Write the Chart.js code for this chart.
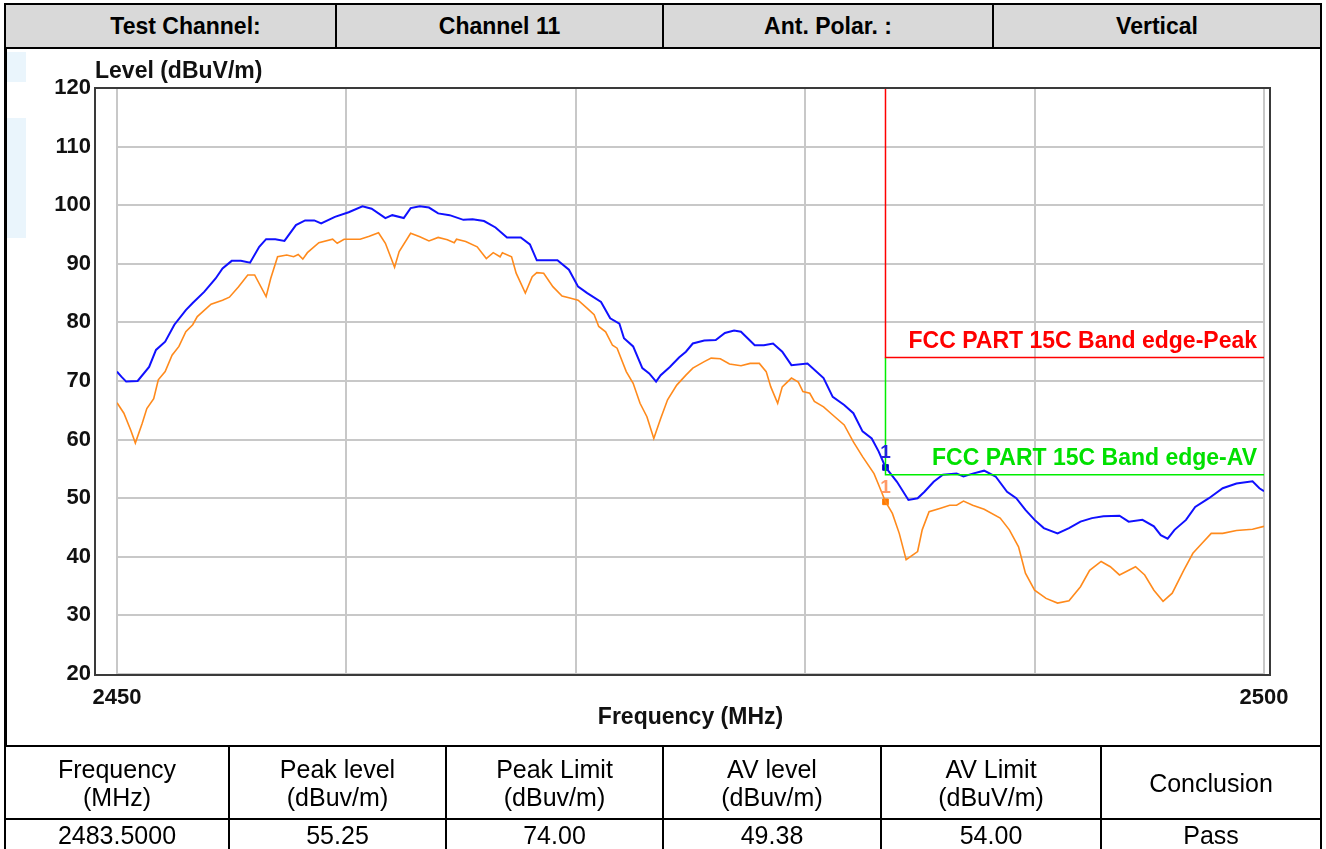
<!DOCTYPE html>
<html>
<head>
<meta charset="utf-8">
<script src="https://cdn.jsdelivr.net/npm/chart.js@4.4.1/dist/chart.umd.min.js"></script>
<style>
  html, body { margin: 0; padding: 0; background: #fff; overflow: hidden; }
  body { width: 1326px; height: 849px; position: relative; font-family: "Liberation Sans", Arial, sans-serif; }
  .wm { position: absolute; background: #eaf5fc; }
  #chartBox { position: absolute; left: 0; top: 48px; width: 1326px; height: 697px; }
  table { position: absolute; border-collapse: collapse; table-layout: fixed; }
  td { border: 2px solid #000; text-align: center; padding: 0; color: #000; }
  #head { left: 4px; top: 3px; width: 1318px; height: 46px; background: #d9d9d9; }
  #head td { font-weight: bold; font-size: 23px; }
  #side { position: absolute; left: 4px; top: 48px; width: 1318px; height: 698px; box-sizing: border-box;
          border-left: 3px solid #000; border-right: 2px solid #000; }
  #foot { left: 4px; top: 745px; width: 1318px; }
  #foot td { font-size: 25px; line-height: 28px; }
</style>
</head>
<body>
<div class="wm" style="left:7px;top:52px;width:19px;height:30px"></div>
<div class="wm" style="left:7px;top:118px;width:19px;height:120px"></div>
<div id="chartBox"><canvas id="grafik" width="1326" height="697"></canvas></div>
<div id="side"></div>
<table id="head">
  <colgroup><col style="width:331px"><col style="width:327px"><col style="width:330px"><col></colgroup>
  <tr>
    <td style="text-indent:30px">Test Channel:</td>
    <td>Channel 11</td>
    <td>Ant. Polar. :</td>
    <td>Vertical</td>
  </tr>
</table>
<table id="foot">
  <colgroup><col style="width:224px"><col style="width:217px"><col style="width:217px"><col style="width:218px"><col style="width:220px"><col></colgroup>
  <tr style="height:73px">
    <td>Frequency<br>(MHz)</td>
    <td>Peak level<br>(dBuv/m)</td>
    <td>Peak Limit<br>(dBuv/m)</td>
    <td>AV level<br>(dBuv/m)</td>
    <td>AV Limit<br>(dBuV/m)</td>
    <td>Conclusion</td>
  </tr>
  <tr style="height:32px">
    <td>2483.5000</td><td>55.25</td><td>74.00</td><td>49.38</td><td>54.00</td><td>Pass</td>
  </tr>
</table>

<script>
// Sumbu
const xTicks = [2450, 2460, 2470, 2480, 2490, 2500];
const yTicks = [20, 30, 40, 50, 60, 70, 80, 90, 100, 110, 120];

// Peak (biru)
const peakFreq = [2450.0, 2450.2, 2450.4, 2450.9, 2451.4, 2451.7, 2452.1, 2452.5, 2453.0, 2453.3,
  2453.8, 2454.3, 2454.6, 2455.0, 2455.4, 2455.8, 2456.2, 2456.5, 2456.9, 2457.3,
  2457.8, 2458.2, 2458.6, 2458.9, 2459.5, 2460.1, 2460.7, 2461.1, 2461.7, 2462.0,
  2462.5, 2462.8, 2463.2, 2463.6, 2464.0, 2464.5, 2465.1, 2465.5, 2466.0, 2466.5,
  2467.0, 2467.6, 2468.0, 2468.3, 2469.2, 2469.7, 2470.1, 2470.5, 2471.1, 2471.5,
  2471.9, 2472.1, 2472.5, 2472.9, 2473.2, 2473.5, 2473.7, 2474.1, 2474.5, 2474.8,
  2475.1, 2475.6, 2476.1, 2476.5, 2476.9, 2477.2, 2477.8, 2478.2, 2478.6, 2479.0,
  2479.4, 2480.1, 2480.8, 2481.2, 2481.7, 2482.1, 2482.5, 2482.9, 2483.2, 2483.5,
  2484.0, 2484.5, 2484.9, 2485.2, 2485.6, 2486.0, 2486.6, 2486.9, 2487.3, 2487.8,
  2488.3, 2488.8, 2489.2, 2489.6, 2490.0, 2490.4, 2491.0, 2491.5, 2492.0, 2492.5,
  2493.0, 2493.7, 2494.1, 2494.7, 2495.2, 2495.5, 2495.8, 2496.1, 2496.6, 2497.0,
  2497.6, 2498.2, 2498.8, 2499.5, 2499.8, 2500.0];
const peakLevel = [71.6, 70.7, 69.9, 70.0, 72.4, 75.3, 76.7, 79.6, 82.1, 83.3,
  85.2, 87.5, 89.2, 90.5, 90.5, 90.2, 92.9, 94.2, 94.2, 93.9,
  96.6, 97.4, 97.4, 96.9, 98.0, 98.8, 99.8, 99.4, 97.8, 98.3,
  97.8, 99.5, 99.8, 99.6, 98.6, 98.3, 97.5, 97.6, 97.3, 96.2,
  94.5, 94.5, 93.3, 90.6, 90.6, 89.0, 86.1, 85.0, 83.5, 80.7,
  79.8, 77.3, 75.9, 72.2, 71.3, 69.9, 71.0, 72.4, 74.0, 75.0,
  76.4, 76.9, 77.0, 78.2, 78.6, 78.4, 76.1, 76.1, 76.4, 75.0,
  72.7, 73.0, 70.5, 67.3, 65.9, 64.5, 61.4, 60.2, 58.0, 55.3,
  52.8, 49.7, 50.0, 51.1, 52.8, 54.0, 54.2, 53.7, 54.2, 54.7,
  53.7, 51.1, 50.0, 48.0, 46.3, 44.9, 44.0, 44.9, 46.0, 46.6,
  46.9, 47.0, 46.0, 46.3, 45.2, 43.7, 43.1, 44.6, 46.3, 48.5,
  50.0, 51.7, 52.5, 52.9, 51.7, 51.2];

// AV (oranye)
const avFreq = [2450.0, 2450.3, 2450.6, 2450.8, 2451.1, 2451.3, 2451.6, 2451.8, 2452.1, 2452.4,
  2452.7, 2453.0, 2453.3, 2453.5, 2454.1, 2454.6, 2454.9, 2455.3, 2455.7, 2456.0,
  2456.5, 2456.7, 2457.0, 2457.4, 2457.7, 2457.9, 2458.1, 2458.3, 2458.8, 2459.4,
  2459.6, 2459.9, 2460.6, 2461.0, 2461.4, 2461.7, 2462.1, 2462.3, 2462.8, 2463.2,
  2463.6, 2464.0, 2464.4, 2464.7, 2464.8, 2465.2, 2465.7, 2466.1, 2466.4, 2466.7,
  2466.8, 2467.2, 2467.4, 2467.8, 2468.1, 2468.3, 2468.6, 2469.0, 2469.4, 2469.7,
  2470.1, 2470.5, 2470.8, 2471.0, 2471.3, 2471.6, 2471.8, 2472.2, 2472.5, 2472.8,
  2473.1, 2473.4, 2473.7, 2474.0, 2474.4, 2474.8, 2475.1, 2475.6, 2475.9, 2476.3,
  2476.7, 2477.2, 2477.6, 2478.0, 2478.3, 2478.5, 2478.8, 2479.0, 2479.4, 2479.7,
  2479.9, 2480.2, 2480.4, 2480.8, 2481.2, 2481.7, 2482.1, 2482.5, 2483.0, 2483.2,
  2483.5, 2483.8, 2484.1, 2484.4, 2484.9, 2485.1, 2485.4, 2485.9, 2486.3, 2486.6,
  2486.9, 2487.3, 2487.8, 2488.5, 2488.9, 2489.3, 2489.6, 2490.0, 2490.5, 2491.0,
  2491.5, 2492.0, 2492.4, 2492.9, 2493.3, 2493.7, 2494.0, 2494.4, 2494.8, 2495.2,
  2495.6, 2496.0, 2496.5, 2496.9, 2497.3, 2497.7, 2498.2, 2498.8, 2499.5, 2500.0];
const avLevel = [66.3, 64.5, 61.6, 59.4, 62.8, 65.3, 67.0, 70.2, 71.6, 74.4,
  75.9, 78.4, 79.6, 81.0, 83.1, 83.8, 84.3, 86.1, 88.1, 88.1,
  84.4, 87.5, 91.2, 91.5, 91.2, 91.6, 90.8, 91.9, 93.6, 94.2,
  93.5, 94.2, 94.2, 94.7, 95.3, 93.5, 89.4, 92.1, 95.2, 94.6,
  93.9, 94.5, 94.1, 93.6, 94.2, 93.8, 92.9, 90.9, 91.9, 91.2,
  91.9, 91.2, 88.4, 85.0, 87.8, 88.5, 88.4, 86.1, 84.5, 84.2,
  83.8, 82.4, 81.3, 79.3, 78.4, 76.1, 75.6, 71.6, 69.6, 66.2,
  63.9, 60.2, 63.6, 66.8, 69.3, 71.0, 72.2, 73.3, 73.9, 73.8,
  72.9, 72.6, 73.0, 73.0, 71.6, 69.0, 66.2, 69.0, 70.5, 69.8,
  68.2, 67.9, 66.5, 65.6, 64.2, 62.5, 59.6, 57.1, 54.2, 52.3,
  49.4, 47.4, 44.0, 39.5, 40.9, 44.6, 47.7, 48.3, 48.8, 48.8,
  49.5, 48.8, 48.1, 46.6, 44.6, 41.7, 37.2, 34.3, 32.9, 32.1,
  32.5, 34.9, 37.7, 39.2, 38.3, 36.9, 37.5, 38.3, 36.9, 34.3,
  32.4, 33.8, 37.7, 40.6, 42.3, 44.0, 44.0, 44.5, 44.7, 45.2];

// Batas FCC
const edgeFreq = 2483.5;
const peakLimit = 74;
const avLimit = 54;
const markerPeak = 55.25;
const markerAv = 49.38;

const FONT = '"Liberation Sans", Arial, sans-serif';

function toPoints(xs, ys) {
    return xs.map((x, i) => ({ x: x, y: ys[i] }));
}

// Teks tambahan: judul sumbu, label limit, label marker, bingkai plot
const teksPlugin = {
    id: 'teks',
    afterDatasetsDraw(chart) {
        const ctx = chart.ctx;
        const xs = chart.scales.x, ys = chart.scales.y;
        const a = chart.chartArea;
        ctx.save();
        // bingkai plot
        ctx.strokeStyle = '#3a3a3a';
        ctx.lineWidth = 2;
        ctx.strokeRect(a.left - 22, a.top, a.right - a.left + 28, a.bottom - a.top + 1);

        ctx.font = 'bold 23px ' + FONT;
        ctx.fillStyle = '#111';
        ctx.textBaseline = 'middle';
        ctx.textAlign = 'left';
        ctx.fillText('Level (dBuV/m)', a.left - 22, a.top - 16);
        ctx.textAlign = 'center';
        ctx.fillText('Frequency (MHz)', (a.left + a.right) / 2, a.bottom + 44);

        const xr = xs.getPixelForValue(2500) - 7;
        ctx.textAlign = 'right';
        ctx.font = 'bold 23px ' + FONT;
        ctx.fillStyle = '#ff0000';
        ctx.fillText('FCC PART 15C Band edge-Peak', xr, ys.getPixelForValue(peakLimit) - 16);
        ctx.fillStyle = '#00e000';
        ctx.fillText('FCC PART 15C Band edge-AV', xr, ys.getPixelForValue(avLimit) - 16);

        const xe = xs.getPixelForValue(edgeFreq);
        ctx.textAlign = 'center';
        ctx.textBaseline = 'bottom';
        ctx.font = 'bold 19px ' + FONT;
        ctx.fillStyle = '#2222dd';
        ctx.fillText('1', xe, ys.getPixelForValue(markerPeak) - 5);
        ctx.fillStyle = '#ff9966';
        ctx.fillText('1', xe, ys.getPixelForValue(markerAv) - 5);
        ctx.restore();
    }
};

const grafik = new Chart(document.getElementById('grafik'), {
    type: 'line',
    data: {
        datasets: [
            {
                data: toPoints([edgeFreq, edgeFreq, 2500], [120, peakLimit, peakLimit]),
                borderColor: '#ff0000', borderWidth: 1.5, pointRadius: 0
            },
            {
                data: toPoints([edgeFreq, edgeFreq, 2500], [peakLimit, avLimit, avLimit]),
                borderColor: '#00ee00', borderWidth: 1.5, pointRadius: 0
            },
            {
                data: toPoints(avFreq, avLevel),
                borderColor: '#ff8a1c', borderWidth: 1.6, pointRadius: 0
            },
            {
                data: toPoints(peakFreq, peakLevel),
                borderColor: '#1010ff', borderWidth: 2, pointRadius: 0
            },
            {
                data: [{ x: edgeFreq, y: markerPeak }],
                showLine: false, pointStyle: 'rect', pointRadius: 4,
                backgroundColor: '#0000cc', borderColor: '#0000cc'
            },
            {
                data: [{ x: edgeFreq, y: markerAv }],
                showLine: false, pointStyle: 'rect', pointRadius: 4,
                backgroundColor: '#ff7a00', borderColor: '#ff7a00'
            }
        ]
    },
    options: {
        responsive: false,
        animation: false,
        layout: { padding: { left: 0, top: 40, right: 62, bottom: 0 } },
        plugins: { legend: { display: false }, tooltip: { enabled: false } },
        elements: { line: { tension: 0 } },
        scales: {
            x: {
                type: 'linear',
                min: xTicks[0],
                max: xTicks[xTicks.length - 1],
                afterBuildTicks: s => { s.ticks = xTicks.map(v => ({ value: v })); },
                afterFit: s => { s.height = 71; },
                border: { display: false },
                grid: { color: '#c8c8c8', lineWidth: 2, drawTicks: false },
                ticks: {
                    padding: 11,
                    maxRotation: 0,
                    autoSkip: false,
                    color: '#111',
                    font: { family: FONT, size: 22, weight: 'bold' },
                    callback: v => (v === 2450 || v === 2500) ? String(v) : ''
                }
            },
            y: {
                min: yTicks[0],
                max: yTicks[yTicks.length - 1],
                afterBuildTicks: s => { s.ticks = yTicks.map(v => ({ value: v })); },
                afterFit: s => { s.width = 117; },
                border: { display: false },
                grid: { color: '#c8c8c8', lineWidth: 2, drawTicks: false },
                ticks: {
                    padding: 26,
                    color: '#111',
                    font: { family: FONT, size: 22, weight: 'bold' }
                }
            }
        }
    },
    plugins: [teksPlugin]
});
</script>
</body>
</html>
